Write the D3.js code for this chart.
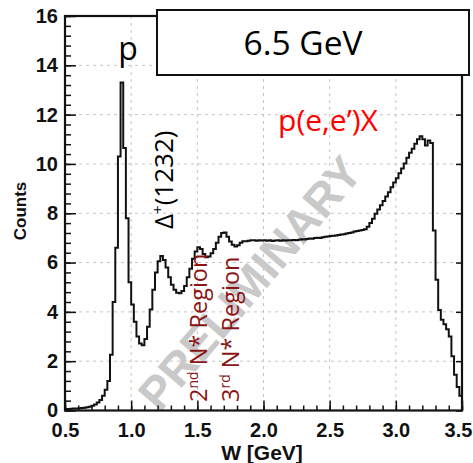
<!DOCTYPE html>
<html>
<head>
<meta charset="utf-8">
<script src="https://cdn.jsdelivr.net/npm/d3@7"></script>
<style>
  html, body { margin: 0; padding: 0; background: #fff; }
  svg { display: block; }
</style>
</head>
<body>
<svg id="chart" width="473" height="463"></svg>
<script>
// Inclusive W spectrum p(e,e')X at 6.5 GeV, binned in W
const binStart = 0.5;
const binWidth = 0.02;
const counts = [
  0.06, 0.06, 0.07, 0.08, 0.08, 0.09, 0.10, 0.11, 0.13, 0.15,
  0.19, 0.24, 0.32, 0.43, 0.60, 0.84, 1.20, 2.26, 4.40, 6.60,
  10.30, 13.30, 10.65, 7.80, 5.20, 4.30, 3.60, 3.00, 2.72, 2.65,
  2.90, 3.40, 4.10, 4.90, 5.60, 6.05, 6.27, 6.10, 5.80, 5.40,
  5.10, 4.90, 4.78, 4.76, 4.85, 5.05, 5.40, 5.75, 6.15, 6.45,
  6.62, 6.55, 6.35, 6.22, 6.25, 6.38, 6.55, 6.80, 7.05, 7.20,
  7.22, 7.05, 6.85, 6.72, 6.65, 6.70, 6.80, 6.86, 6.86, 6.88,
  6.90, 6.90, 6.88, 6.90, 6.89, 6.90, 6.88, 6.90, 6.87, 6.89,
  6.90, 6.88, 6.90, 6.89, 6.91, 6.90, 6.92, 6.90, 6.93, 6.95,
  6.94, 6.96, 6.98, 6.97, 7.00, 7.01, 7.00, 7.03, 7.05, 7.06,
  7.08, 7.09, 7.10, 7.12, 7.14, 7.15, 7.18, 7.20, 7.22, 7.26,
  7.28, 7.30, 7.32, 7.35, 7.45, 7.60, 7.78, 7.98, 8.15, 8.32,
  8.50, 8.68, 8.85, 9.05, 9.25, 9.42, 9.62, 9.82, 10.02, 10.25,
  10.45, 10.62, 10.82, 11.00, 11.12, 11.00, 10.75, 10.95, 10.85, 7.30,
  5.30, 4.08, 3.68, 3.50, 3.30, 3.00, 2.20, 1.45, 0.95, 0.60
];

const xTicks = [0.5, 1.0, 1.5, 2.0, 2.5, 3.0, 3.5];
const xTickLabels = ["0.5", "1.0", "1.5", "2.0", "2.5", "3.0", "3.5"];
const yTicks = [0, 2, 4, 6, 8, 10, 12, 14, 16];
const yTickLabels = ["0", "2", "4", "6", "8", "10", "12", "14", "16"];
const xMinorStep = 0.1;
const yMinorStep = 0.4;

const svg = d3.select("#chart");
const plotL = 65, plotR = 462, plotT = 16, plotB = 410.5;

const x = d3.scaleLinear().domain([0.5, 3.5]).range([plotL, plotR]);
const y = d3.scaleLinear().domain([0, 16]).range([plotB, plotT]);

const tickFont = "'Liberation Sans', Arial, sans-serif";
const annFont = "'Open Sans', 'Noto Sans', sans-serif";

// dashed grid at the major ticks
const grid = svg.append("g").attr("stroke", "#c4c4c4").attr("stroke-width", 1)
  .attr("stroke-dasharray", "3,4");
grid.selectAll("line.v").data(xTicks.slice(1, -1)).join("line").attr("class", "v")
  .attr("x1", d => x(d)).attr("x2", d => x(d)).attr("y1", plotT).attr("y2", plotB);
grid.selectAll("line.h").data(yTicks.slice(1, -1)).join("line").attr("class", "h")
  .attr("x1", plotL).attr("x2", plotR).attr("y1", d => y(d)).attr("y2", d => y(d));

// watermark
svg.append("text")
  .attr("transform", "translate(250,283) rotate(-49.5)")
  .attr("text-anchor", "middle").attr("dominant-baseline", "central")
  .attr("font-family", tickFont).attr("font-weight", "bold")
  .attr("font-size", 46).attr("fill", "#c9c9c9")
  .text("PRELIMINARY");

// histogram outline
const pts = counts.map((c, i) => [binStart + i * binWidth, c]);
pts.push([binStart + counts.length * binWidth, counts[counts.length - 1]]);
const line = d3.line().x(d => x(d[0])).y(d => y(d[1])).curve(d3.curveStepAfter);
svg.append("path").datum(pts)
  .attr("d", line).attr("fill", "none")
  .attr("stroke", "#111").attr("stroke-width", 2).attr("stroke-linejoin", "miter");

// axes: minor ticks
const xMinor = d3.range(0.5, 3.5 + 1e-9, xMinorStep);
const yMinor = d3.range(0, 16 + 1e-9, yMinorStep);
svg.append("g").attr("transform", `translate(0,${plotB})`)
  .call(d3.axisBottom(x).tickValues(xMinor).tickSize(-5).tickFormat(""))
  .call(g => g.select(".domain").remove())
  .call(g => g.selectAll("line").attr("stroke", "#111").attr("stroke-width", 1.5));
svg.append("g").attr("transform", `translate(${plotL},0)`)
  .call(d3.axisLeft(y).tickValues(yMinor).tickSize(-6).tickFormat(""))
  .call(g => g.select(".domain").remove())
  .call(g => g.selectAll("line").attr("stroke", "#111").attr("stroke-width", 1.5));

// axes: major ticks with labels
svg.append("g").attr("transform", `translate(0,${plotB})`)
  .call(d3.axisBottom(x).tickValues(xTicks).tickSize(-10).tickPadding(12)
    .tickFormat((d, i) => xTickLabels[i]))
  .call(g => g.select(".domain").remove())
  .call(g => g.selectAll("line").attr("stroke", "#111").attr("stroke-width", 1.5))
  .call(g => g.selectAll("text").attr("font-family", tickFont).attr("font-weight", "bold")
    .attr("font-size", 20).attr("fill", "#111")
    .attr("dx", (d, i) => i === xTicks.length - 1 ? -4 : 0));
svg.append("g").attr("transform", `translate(${plotL},0)`)
  .call(d3.axisLeft(y).tickValues(yTicks).tickSize(-11).tickPadding(7)
    .tickFormat((d, i) => yTickLabels[i]))
  .call(g => g.select(".domain").remove())
  .call(g => g.selectAll("line").attr("stroke", "#111").attr("stroke-width", 1.5))
  .call(g => g.selectAll("text").attr("font-family", tickFont).attr("font-weight", "bold")
    .attr("font-size", 20).attr("fill", "#111"));
svg.append("g").attr("transform", `translate(${plotR},0)`)
  .call(d3.axisRight(y).tickValues(yTicks).tickSize(-6).tickFormat(""))
  .call(g => g.select(".domain").remove())
  .call(g => g.selectAll("line").attr("stroke", "#111").attr("stroke-width", 1.5));

// frame
svg.append("rect").attr("x", plotL).attr("y", plotT)
  .attr("width", plotR - plotL).attr("height", plotB - plotT)
  .attr("fill", "none").attr("stroke", "#111").attr("stroke-width", 2.2);

// axis titles
svg.append("text").attr("transform", "translate(26,211) rotate(-90)")
  .attr("text-anchor", "middle").attr("font-family", tickFont).attr("font-weight", "bold")
  .attr("font-size", 17).attr("fill", "#111").text("Counts");
svg.append("text").attr("x", 262).attr("y", 460)
  .attr("text-anchor", "middle").attr("font-family", tickFont).attr("font-weight", "bold")
  .attr("font-size", 21).attr("fill", "#111").text("W [GeV]");

// beam energy box
svg.append("rect").attr("x", 157).attr("y", 10).attr("width", 312).attr("height", 65)
  .attr("fill", "#fff").attr("stroke", "#111").attr("stroke-width", 2);
svg.append("text").attr("x", 303).attr("y", 55).attr("text-anchor", "middle")
  .attr("font-family", annFont).attr("font-size", 33.5).attr("fill", "#000").text("6.5 GeV");

// annotations
svg.append("text").attr("x", 128).attr("y", 60).attr("text-anchor", "middle")
  .attr("font-family", annFont).attr("font-size", 32).attr("fill", "#000").text("p");

svg.append("text").attr("x", 328).attr("y", 131).attr("text-anchor", "middle")
  .attr("font-family", annFont).attr("font-size", 30).attr("fill", "#ff0000").text("p(e,e\u2019)X");

const delta = svg.append("text").attr("transform", "translate(173,229) rotate(-90)")
  .attr("font-family", annFont).attr("font-size", 26).attr("fill", "#000");
delta.append("tspan").text("\u0394");
delta.append("tspan").attr("font-size", 15).attr("dy", -10).text("+");
delta.append("tspan").attr("dy", 10).text("(1232)");

function regionLabel(tx, ord) {
  const t = svg.append("text").attr("transform", `translate(${tx},402) rotate(-90)`)
    .attr("font-family", annFont).attr("font-size", 23.5).attr("fill", "#8b1414");
  t.append("tspan").text(ord[0]);
  t.append("tspan").attr("font-size", 14).attr("dy", -9).text(ord[1]);
  t.append("tspan").attr("dy", 9).text(" N* Region");
}
regionLabel(207, ["2", "nd"]);
regionLabel(239, ["3", "rd"]);
</script>
</body>
</html>
